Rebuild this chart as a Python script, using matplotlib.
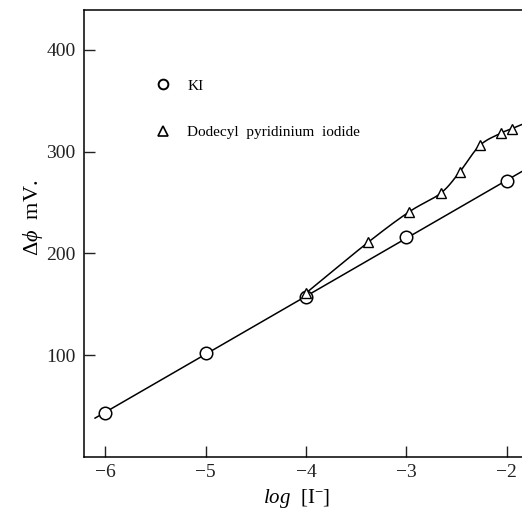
import numpy as np
import matplotlib
matplotlib.use("Agg")
import matplotlib.pyplot as plt

plt.rcParams['font.family'] = ['Liberation Serif', 'DejaVu Serif']
plt.rcParams['mathtext.fontset'] = 'custom'
plt.rcParams['mathtext.rm'] = 'Liberation Serif'
plt.rcParams['mathtext.it'] = 'Liberation Serif:italic'

# --- data: membrane potential vs log iodide concentration ---
ki_log_conc = [-6, -5, -4, -3, -2]
ki_potential = [43, 102, 157.5, 216, 271]

dpi_log_conc = [-4, -3.38, -2.97, -2.66, -2.47, -2.27, -2.06, -1.95]
dpi_potential = [161, 211, 241, 259, 280, 306, 318, 322.5]

x_ticks = [-6, -5, -4, -3, -2]
y_ticks = [100, 200, 300, 400]


def catmull_rom(xs, ys, n=30):
    """Smooth curve through the given points (uniform Catmull-Rom)."""
    px = np.r_[2 * xs[0] - xs[1], xs, 2 * xs[-1] - xs[-2]]
    py = np.r_[2 * ys[0] - ys[1], ys, 2 * ys[-1] - ys[-2]]
    out_x, out_y = [], []
    t = np.linspace(0, 1, n)
    for i in range(1, len(px) - 2):
        for p, out in ((px, out_x), (py, out_y)):
            p0, p1, p2, p3 = p[i - 1], p[i], p[i + 1], p[i + 2]
            seg = 0.5 * ((2 * p1) + (-p0 + p2) * t
                         + (2 * p0 - 5 * p1 + 4 * p2 - p3) * t ** 2
                         + (-p0 + 3 * p1 - 3 * p2 + p3) * t ** 3)
            out.extend(seg)
    return np.array(out_x), np.array(out_y)


fig = plt.figure(figsize=(5.22, 5.13), dpi=100)
ax = fig.add_axes([84 / 522, 56 / 513, 438 / 522, 447 / 513])

# KI: straight calibration line through the circles
k, b = np.polyfit(ki_log_conc, ki_potential, 1)
xl = np.array([-6.1, -1.8])
ax.plot(xl, k * xl + b, color='black', lw=1.1, zorder=2)
ax.plot(ki_log_conc, ki_potential, 'o', ms=9, mfc='white', mec='black',
        mew=1.1, zorder=3)

# dodecyl pyridinium iodide: smooth curve through the triangles
cx, cy = catmull_rom(np.array(dpi_log_conc, float), np.array(dpi_potential, float))
slope_end = (dpi_potential[-1] - dpi_potential[-2]) / (dpi_log_conc[-1] - dpi_log_conc[-2])
cx = np.r_[cx, -1.8]
cy = np.r_[cy, dpi_potential[-1] + slope_end * (-1.8 - dpi_log_conc[-1])]
ax.plot(cx, cy, color='black', lw=1.1, zorder=2)
ax.plot(dpi_log_conc, dpi_potential, '^', ms=7, mfc='white', mec='black',
        mew=1.0, zorder=3)

# in-plot key
ax.plot([-5.42], [366], 'o', ms=7, mfc='white', mec='black', mew=1.4)
ax.text(-5.18, 364, 'KI', fontsize=11, va='center', ha='left')
ax.plot([-5.42], [320], '^', ms=6.5, mfc='white', mec='black', mew=1.2)
ax.text(-5.18, 319, 'Dodecyl  pyridinium  iodide', fontsize=11,
        va='center', ha='left')

ax.set_xlim(-6.21, -1.85)
ax.set_ylim(0, 439)
ax.set_xticks(x_ticks)
ax.set_yticks(y_ticks)
ax.set_xticklabels(['\u2212' + str(abs(v)) for v in x_ticks])
ax.tick_params(direction='in', length=8, width=1.0, labelsize=14, pad=6,
               colors='#222222')
ax.tick_params(axis='x', pad=5)
ax.spines['right'].set_visible(False)
for s in ('left', 'bottom', 'top'):
    ax.spines[s].set_linewidth(1.1)

ax.set_xlabel(r'$\mathit{log}$  [I$^{-}$]', fontsize=15, va='center')
ax.set_ylabel(r'$\mathit{\Delta\phi}$  mV.', fontsize=16, va='center')
ax.xaxis.set_label_coords(0.486, -0.093)
ax.yaxis.set_label_coords(-0.116, 0.535)

fig.savefig('out.png', dpi=100)
